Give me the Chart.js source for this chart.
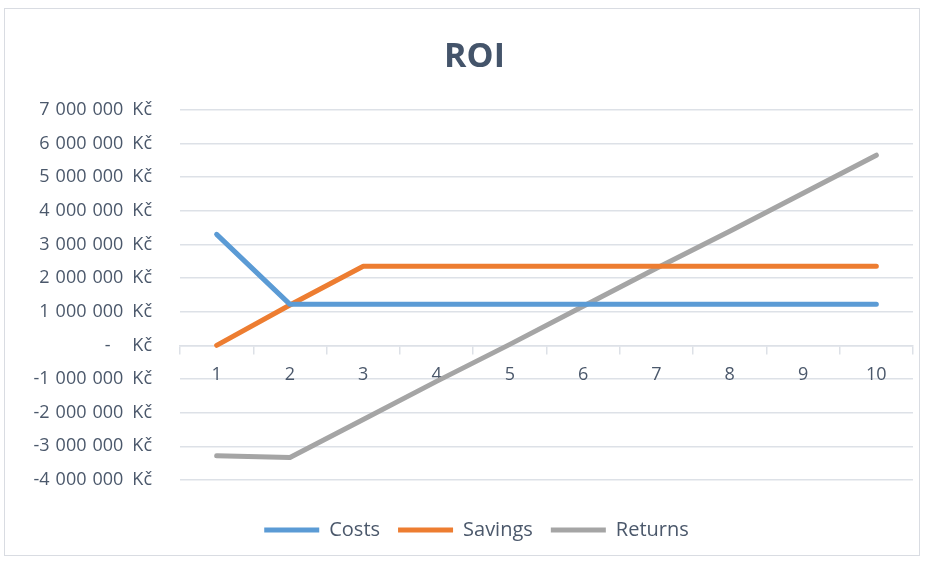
<!DOCTYPE html>
<html>
<head>
<meta charset="utf-8">
<script src="https://cdn.jsdelivr.net/npm/chart.js@4.4.1/dist/chart.umd.min.js"></script>
<style>
  html, body { margin: 0; padding: 0; background: #ffffff; }
  #wrap { position: absolute; left: 0; top: 0; width: 927px; height: 562px; }
  #frame { position: absolute; left: 4px; top: 8px; width: 916px; height: 548px; border: 1px solid #d9dce2; box-sizing: border-box; pointer-events: none; }
</style>
</head>
<body>
<div id="wrap"><canvas id="c" width="927" height="562"></canvas></div>
<div id="frame"></div>
<script>
const categories = ['1', '2', '3', '4', '5', '6', '7', '8', '9', '10'];
const costs   = [3300000, 1220000, 1220000, 1220000, 1220000, 1220000, 1220000, 1220000, 1220000, 1220000];
const savings = [0, 1200000, 2350000, 2350000, 2350000, 2350000, 2350000, 2350000, 2350000, 2350000];
const returns = [-3280000, -3330000, -2200000, -1070000, 30000, 1160000, 2290000, 3390000, 4520000, 5650000];
const yMin = -4000000, yMax = 7000000, yStep = 1000000;

const textColor = '#44546A';
const tickColor = '#4b586b';
const gridColor = '#dde1e7';
const FONT = "'Open Sans', 'Noto Sans', sans-serif";
const GROUP_SP = '\u2004';
const UNIT_SP = '\u2002';

function fmtKc(v) {
  if (v === 0) return '-    \u2009Kč';
  const neg = v < 0;
  const s = Math.abs(v).toString().replace(/\B(?=(\d{3})+(?!\d))/g, GROUP_SP);
  return (neg ? '-' : '') + s + UNIT_SP + 'Kč';
}

Chart.defaults.font.family = FONT;
Chart.defaults.color = tickColor;

const lineStyle = { borderWidth: 5, borderCapStyle: 'round', borderJoinStyle: 'round', fill: false, tension: 0 };

// shift title and legend so they are centred like the original (not over the y-axis labels)
const shiftBlocks = {
  id: 'shiftBlocks',
  afterLayout(chart) {
    if (chart.titleBlock) { chart.titleBlock.left += 36; }
    if (chart.legend) { chart.legend.left += 40; }
  }
};

new Chart(document.getElementById('c'), {
  type: 'line',
  data: {
    labels: categories,
    datasets: [
      Object.assign({ label: 'Costs', data: costs, borderColor: '#5B9BD5', backgroundColor: '#5B9BD5' }, lineStyle),
      Object.assign({ label: 'Savings', data: savings, borderColor: '#ED7D31', backgroundColor: '#ED7D31' }, lineStyle),
      Object.assign({ label: 'Returns', data: returns, borderColor: '#A5A5A5', backgroundColor: '#A5A5A5' }, lineStyle)
    ]
  },
  plugins: [shiftBlocks],
  options: {
    responsive: false,
    animation: false,
    devicePixelRatio: 1,
    layout: { padding: { left: 0, right: 14, top: 0, bottom: 12 } },
    elements: {
      point: { radius: 0, hoverRadius: 0 }
    },
    plugins: {
      title: {
        display: true,
        text: 'ROI',
        color: textColor,
        font: { family: FONT, size: 34, weight: 'bold', lineHeight: 1.2 },
        padding: { top: 37, bottom: 32 }
      },
      legend: {
        position: 'bottom',
        title: { display: true, text: ' ', font: { size: 10, lineHeight: 2.2 }, padding: 0 },
        labels: {
          usePointStyle: true,
          pointStyle: 'line',
          pointStyleWidth: 55,
          boxHeight: 5,
          color: tickColor,
          font: { family: FONT, size: 20 },
          padding: 18
        }
      },
      tooltip: { enabled: false }
    },
    scales: {
      x: {
        type: 'category',
        position: { y: 0 },
        offset: true,
        grid: { display: true, offset: true, drawOnChartArea: false, drawTicks: true, tickLength: 8, color: gridColor, lineWidth: 1.5 },
        border: { display: true, color: gridColor, width: 1.5 },
        ticks: { color: tickColor, font: { family: FONT, size: 18 }, padding: 11, maxRotation: 0 }
      },
      y: {
        min: yMin,
        max: yMax,
        afterFit: (s) => { s.width = 180; },
        grid: { color: gridColor, lineWidth: 1.5, drawTicks: false },
        border: { display: false },
        ticks: {
          stepSize: yStep,
          color: tickColor,
          font: { family: FONT, size: 18 },
          padding: 28,
          callback: (v) => fmtKc(v)
        }
      }
    }
  }
});
</script>
</body>
</html>
